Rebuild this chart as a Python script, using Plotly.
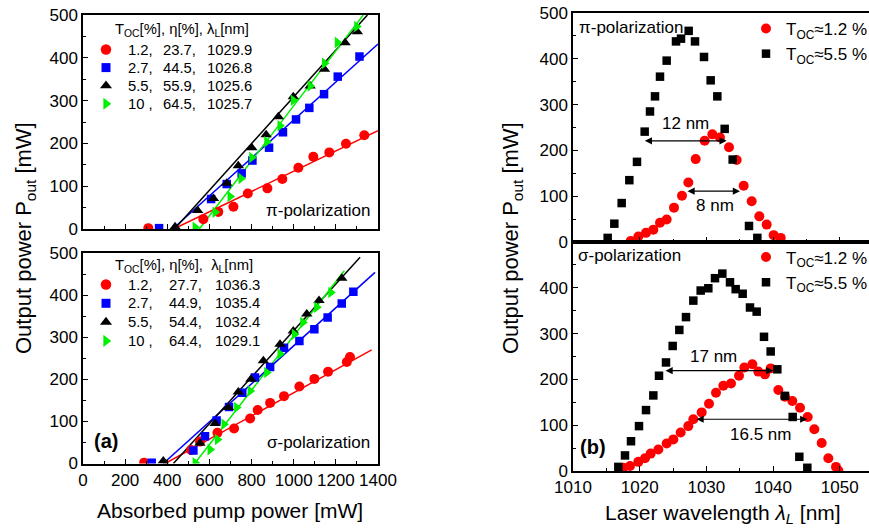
import plotly.graph_objects as go

FONT = "Liberation Sans, Arial, sans-serif"

# ---------------- Panel (a), pi-polarization: absorbed pump power [mW] vs output power [mW]
pi_red_x = [310, 571, 642, 714, 782, 875, 946, 1022, 1093, 1169, 1248, 1335]
pi_red_y = [2, 23, 40, 52, 83, 95, 117, 143, 169, 179, 199, 219]
pi_blue_x = [361, 608, 682, 753, 804, 883, 949, 1011, 1074, 1144, 1209, 1312]
pi_blue_y = [2, 70, 105, 130, 160, 190, 226, 256, 283, 315, 356, 403]
pi_black_x = [437, 544, 619, 682, 737, 801, 869, 927, 998, 1078, 1146, 1244, 1302]
pi_black_y = [5, 43, 71, 107, 148, 190, 220, 262, 309, 334, 373, 435, 461]
pi_green_x = [532, 627, 698, 750, 801, 872, 935, 998, 1078, 1146, 1207, 1299]
pi_green_y = [4, 39, 76, 118, 167, 204, 241, 301, 334, 387, 436, 473]
# fitted lines (end points)
pi_fit_red_x, pi_fit_red_y = [430, 1400], [0, 230]
pi_fit_blue_x, pi_fit_blue_y = [425, 1400], [0, 432]
pi_fit_black_x, pi_fit_black_y = [434, 1350], [0, 500]
pi_fit_green_x, pi_fit_green_y = [552, 1330], [0, 500]

# ---------------- Panel (a), sigma-polarization
sg_red_x = [290, 513, 555, 638, 717, 793, 829, 888, 954, 1027, 1098, 1163, 1252, 1267]
sg_red_y = [2, 32, 52, 73, 83, 107, 127, 144, 160, 183, 201, 218, 241, 253]
sg_blue_x = [326, 524, 579, 634, 693, 756, 816, 888, 954, 1027, 1098, 1161, 1228, 1283]
sg_blue_y = [2, 31, 65, 102, 134, 168, 204, 229, 275, 291, 319, 347, 380, 408]
sg_black_x = [381, 555, 627, 690, 737, 797, 856, 935, 998, 1062, 1120, 1228]
sg_black_y = [6, 48, 95, 133, 170, 200, 244, 283, 315, 355, 387, 440]
sg_green_x = [532, 603, 638, 669, 729, 793, 872, 935, 1003, 1043, 1109, 1176]
sg_green_y = [2, 33, 57, 93, 133, 172, 216, 260, 307, 335, 371, 406]
sg_fit_red_x, sg_fit_red_y = [390, 1370], [0, 270]
sg_fit_blue_x, sg_fit_blue_y = [381, 1386], [0, 454]
sg_fit_black_x, sg_fit_black_y = [429, 1315], [0, 490]
sg_fit_green_x, sg_fit_green_y = [530, 1240], [0, 458]

# legend table of panel (a)
legend_toc = ["1.2,", "2.7,", "5.5,", "10 ,"]
legend_pi_eta = ["23.7,", "44.5,", "55.9,", "64.5,"]
legend_pi_lam = ["1029.9", "1026.8", "1025.6", "1025.7"]
legend_sg_eta = ["27.7,", "44.9,", "54.4,", "64.4,"]
legend_sg_lam = ["1036.3", "1035.4", "1032.4", "1029.1"]

# ---------------- Panel (b), pi-polarization: wavelength [nm] vs output power [mW]
bpi_red_x = [1018.65, 1019.8, 1020.95, 1022.05, 1023.05, 1024.05, 1025.15, 1026.35, 1027.3, 1028.4,
             1029.75, 1030.9, 1032.05, 1033.4, 1034.55, 1035.6, 1036.8, 1037.95, 1039.05, 1040.1, 1041.15]
bpi_red_y = [2, 12, 20, 27, 42, 49, 75, 101, 130, 181, 221, 235, 228, 207, 179, 123, 89, 56, 38, 15, 9]
bpi_black_x = [1015.2, 1016.2, 1017.3, 1018.45, 1019.6, 1020.75, 1021.55, 1022.3, 1023.05, 1024.05, 1025.45,
               1026.2, 1027.35, 1028.3, 1029.65, 1030.65, 1031.65, 1032.75, 1033.95, 1036.4, 1037.65]
bpi_black_y = [9, 40, 85, 135, 175, 241, 285, 318, 361, 396, 438, 444, 461, 438, 404, 353, 318, 247, 180, 35, 9]

# ---------------- Panel (b), sigma-polarization
bsg_red_x = [1017.55, 1018.55, 1019.8, 1020.8, 1021.65, 1022.8, 1024.05, 1025.05, 1026.15, 1027.3, 1028.05,
             1029.3, 1030.4, 1031.45, 1032.55, 1033.7, 1034.9, 1035.7, 1036.9, 1037.8, 1038.8, 1039.65,
             1040.8, 1041.8, 1042.9, 1044.05, 1045.2, 1046.2, 1047.3, 1048.3, 1049.45, 1049.8]
bsg_red_y = [7, 11, 20, 28, 38, 47, 60, 69, 84, 98, 113, 128, 147, 171, 186, 191, 208, 226, 233, 217, 211,
             224, 177, 162, 153, 138, 118, 91, 61, 28, 9, 1]
bsg_black_x = [1016.8, 1017.8, 1018.7, 1019.9, 1020.95, 1022.05, 1022.9, 1023.95, 1024.95, 1025.95, 1026.95,
               1028.05, 1029.15, 1030.3, 1031.3, 1032.4, 1033.55, 1034.4, 1035.45, 1036.55, 1037.55, 1038.65,
               1039.65, 1040.65, 1041.8, 1042.95, 1043.95, 1045.15]
bsg_black_y = [9, 34, 65, 98, 133, 165, 208, 237, 273, 308, 336, 372, 394, 399, 421, 431, 412, 397, 387, 357,
               348, 293, 261, 222, 164, 118, 31, 7]

# linewidth arrows: [x_start, x_end, y]
arrow_pi_12 = [1020.55, 1033.05, 221]
arrow_pi_8 = [1026.95, 1035.05, 111]
arrow_sg_17 = [1023.65, 1040.05, 219]
arrow_sg_165 = [1028.3, 1045.15, 113]

RED, BLUE, BLACK, GREEN = "#ff0000", "#0000ff", "#000000", "#00f000"
COLORS = [RED, BLUE, BLACK, GREEN]
SYMBOLS = ["circle", "square", "triangle-up", "triangle-right"]
SIZES = [10, 8.5, 10, 10]

W, H = 869, 529
def px(x): return x / W
def py(y): return 1 - y / H

fig = go.Figure()

def pts(x, y, color, symbol, size, xa, ya, name=None, legend="legend"):
    fig.add_trace(go.Scatter(x=x, y=y, mode="markers", xaxis=xa, yaxis=ya,
                             marker=dict(color=color, symbol=symbol, size=size, line=dict(width=0)),
                             name=name if name else "", showlegend=name is not None, legend=legend,
                             hoverinfo="skip" if name is None and xa == "x5" else None))

def line(x, y, color, xa, ya):
    fig.add_trace(go.Scatter(x=x, y=y, mode="lines", xaxis=xa, yaxis=ya,
                             line=dict(color=color, width=1.5), showlegend=False, hoverinfo="skip"))

# panel a top
for fx, fy, c in [(pi_fit_red_x, pi_fit_red_y, RED), (pi_fit_blue_x, pi_fit_blue_y, BLUE),
                  (pi_fit_black_x, pi_fit_black_y, BLACK), (pi_fit_green_x, pi_fit_green_y, GREEN)]:
    line(fx, fy, c, "x", "y")
for (dx, dy), c, s, sz in zip([(pi_red_x, pi_red_y), (pi_blue_x, pi_blue_y), (pi_black_x, pi_black_y),
                               (pi_green_x, pi_green_y)], COLORS, SYMBOLS, SIZES):
    pts(dx, dy, c, s, sz, "x", "y")

# panel a bottom
for fx, fy, c in [(sg_fit_red_x, sg_fit_red_y, RED), (sg_fit_blue_x, sg_fit_blue_y, BLUE),
                  (sg_fit_black_x, sg_fit_black_y, BLACK), (sg_fit_green_x, sg_fit_green_y, GREEN)]:
    line(fx, fy, c, "x2", "y2")
for (dx, dy), c, s, sz in zip([(sg_red_x, sg_red_y), (sg_blue_x, sg_blue_y), (sg_black_x, sg_black_y),
                               (sg_green_x, sg_green_y)], COLORS, SYMBOLS, SIZES):
    pts(dx, dy, c, s, sz, "x2", "y2")

# panel b
pts(bpi_red_x, bpi_red_y, RED, "circle", 10, "x3", "y3", "T<sub>OC</sub>\u22481.2 %", "legend")
pts(bpi_black_x, bpi_black_y, BLACK, "square", 8.5, "x3", "y3", "T<sub>OC</sub>\u22485.5 %", "legend")
pts(bsg_red_x, bsg_red_y, RED, "circle", 10, "x4", "y4", "T<sub>OC</sub>\u22481.2 %", "legend2")
pts(bsg_black_x, bsg_black_y, BLACK, "square", 8.5, "x4", "y4", "T<sub>OC</sub>\u22485.5 %", "legend2")

# legend keys of panel (a): drawn on a hidden full-page pixel axis
KEY_X = 106
TOP_ROW0, TOP_DY = 49.5, 18.1
BOT_ROW0, BOT_DY = 284.5, 18.8
for i in range(4):
    for r0, dy in [(TOP_ROW0, TOP_DY), (BOT_ROW0, BOT_DY)]:
        fig.add_trace(go.Scatter(x=[KEY_X], y=[r0 + i * dy], mode="markers", xaxis="x5", yaxis="y5",
                                 marker=dict(color=COLORS[i], symbol=SYMBOLS[i], size=SIZES[i] + 0.5),
                                 showlegend=False, hoverinfo="skip"))

tickfont = dict(family=FONT, size=17, color="black")
def axis(domain, rng, dtick, minor_dtick, labels=True, anchor=None, tickvals=None):
    d = dict(domain=domain, range=rng, showline=True, linecolor="black", linewidth=1.5, mirror=True,
             ticks="inside", ticklen=5, tickwidth=1.3, tickcolor="black", showgrid=False, zeroline=False,
             tickfont=tickfont, showticklabels=labels, anchor=anchor, automargin=False, fixedrange=True,
             minor=dict(ticks="inside", ticklen=3, tickwidth=1, tickcolor="black", dtick=minor_dtick,
                        tick0=rng[0], showgrid=False))
    if tickvals is not None:
        d["tickmode"] = "array"
        d["tickvals"] = tickvals
    else:
        d["dtick"] = dtick
        d["tick0"] = 0
    return d

xa_dom = [px(83), px(378)]
xb_dom = [px(573), 1.0]

hidden = dict(domain=[0, 1], visible=False, showgrid=False, zeroline=False, fixedrange=True,
              automargin=False)

fig.update_layout(
    width=W, height=H, margin=dict(l=0, r=0, t=0, b=0, autoexpand=False),
    paper_bgcolor="white", plot_bgcolor="rgba(0,0,0,0)",
    font=dict(family=FONT, color="black"),
    xaxis=axis(xa_dom, [0, 1400], 200, 100, labels=False, anchor="y"),
    yaxis=axis([py(229), py(15)], [0, 500], 100, 50, anchor="x"),
    xaxis2=axis(xa_dom, [0, 1400], 200, 100, anchor="y2"),
    yaxis2=axis([py(463.5), py(253)], [0, 500], 100, 50, anchor="x2"),
    xaxis3=axis(xb_dom, [1010, 1054.4], 10, 5, labels=False, anchor="y3"),
    yaxis3=axis([py(242), py(13)], [0, 500], 100, 50, anchor="x3"),
    xaxis4=axis(xb_dom, [1010, 1054.4], 10, 5, anchor="y4"),
    yaxis4=axis([py(471), py(242)], [0, 500], 100, 50, anchor="x4", tickvals=[0, 100, 200, 300, 400]),
    xaxis5=dict(range=[0, W], anchor="y5", **hidden),
    yaxis5=dict(range=[H, 0], anchor="x5", **hidden),
)

legend_common = dict(bgcolor="rgba(0,0,0,0)", borderwidth=0, xanchor="left", yanchor="top",
                     tracegroupgap=0, itemwidth=30, itemclick=False, itemdoubleclick=False)
fig.update_layout(
    legend=dict(x=px(746), y=py(11), font=dict(family=FONT, size=17, color="black"), **legend_common),
    legend2=dict(x=px(746), y=py(239.5), font=dict(family=FONT, size=17, color="black"), **legend_common),
)

ann = []
def text(x, y, s, size=17, xanchor="center", yanchor="middle", angle=0, bold=False):
    if bold:
        s = "<b>" + s + "</b>"
    ann.append(dict(x=px(x), y=py(y), xref="paper", yref="paper", text=s, showarrow=False,
                    xanchor=xanchor, yanchor=yanchor, textangle=angle,
                    font=dict(family=FONT, size=size, color="black")))

LEG_FS = 14.8
text(113, 30, "T<sub>OC</sub>[%], \u03b7[%], \u03bb<sub>L</sub>[nm]", size=LEG_FS, xanchor="left")
text(113, 266, "T<sub>OC</sub>[%], \u03b7[%],\u00a0 \u03bb<sub>L</sub>[nm]", size=LEG_FS, xanchor="left")
for i in range(4):
    yt = TOP_ROW0 + i * TOP_DY
    text(126, yt, legend_toc[i].replace(" ", "\u00a0"), size=LEG_FS, xanchor="left")
    text(161, yt, legend_pi_eta[i], size=LEG_FS, xanchor="left")
    text(205, yt, legend_pi_lam[i], size=LEG_FS, xanchor="left")
    yb = BOT_ROW0 + i * BOT_DY
    text(126, yb, legend_toc[i].replace(" ", "\u00a0"), size=LEG_FS, xanchor="left")
    text(167, yb, legend_sg_eta[i], size=LEG_FS, xanchor="left")
    text(213, yb, legend_sg_lam[i], size=LEG_FS, xanchor="left")

text(372, 210, "\u03c0-polarization", xanchor="right")
text(372, 442, "\u03c3-polarization", xanchor="right")
text(106, 441, "(a)", size=20, bold=True)
text(593, 447, "(b)", size=20, bold=True)
text(577, 27, "\u03c0-polarization", xanchor="left")
text(576, 256, "\u03c3-polarization", xanchor="left")
text(230, 510, "Absorbed pump power [mW]", size=21)
text(723, 514, "Laser wavelength <i>\u03bb<sub>L</sub></i> [nm]", size=21)
text(25, 238, "Output power P<sub>out</sub> [mW]", size=22, angle=-90)
text(512, 238, "Output power P<sub>out</sub> [mW]", size=22, angle=-90)

# arrows with labels in data coordinates
def darrow(a, xr, yr, label, lx, ly):
    x0, x1, yv = a
    ann.append(dict(x=x1, y=yv, ax=x0, ay=yv, xref=xr, yref=yr, axref=xr, ayref=yr, text="",
                    showarrow=True, arrowhead=2, arrowside="end+start", arrowsize=1.2, arrowwidth=1.2,
                    arrowcolor="black"))
    ann.append(dict(x=lx, y=ly, xref=xr, yref=yr, text=label, showarrow=False,
                    font=dict(family=FONT, size=17, color="black")))

darrow(arrow_pi_12, "x3", "y3", "12 nm", 1026.8, 259)
darrow(arrow_pi_8, "x3", "y3", "8 nm", 1031.3, 80)
darrow(arrow_sg_17, "x4", "y4", "17 nm", 1031.05, 250)
darrow(arrow_sg_165, "x4", "y4", "16.5 nm", 1038.05, 80)

fig.update_layout(annotations=ann)
fig.write_html("out.html", config={"displayModeBar": False},
               post_script="document.body.style.margin='0';")
